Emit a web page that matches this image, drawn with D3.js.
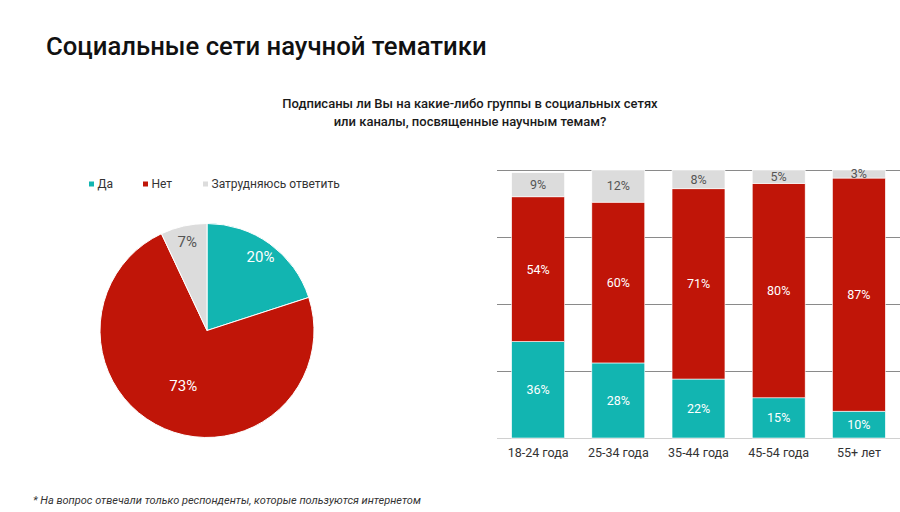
<!DOCTYPE html>
<html>
<head>
<meta charset="utf-8">
<script src="https://cdn.jsdelivr.net/npm/d3@7"></script>
<style>
  html, body { margin: 0; padding: 0; background: #fff; }
  svg { display: block; font-family: Roboto, "Noto Sans", sans-serif; }
</style>
</head>
<body>
<svg id="chart" width="900" height="512"></svg>
<script>
// ---- data ----
const seriesNames = ["Да", "Нет", "Затрудняюсь ответить"];
const seriesColors = ["#12b5b1", "#c01508", "#dcdcdc"];
const labelColors = ["#ffffff", "#ffffff", "#555555"];

const pieValues = [20, 73, 7];

const ageGroups = ["18-24 года", "25-34 года", "35-44 года", "45-54 года", "55+ лет"];
const yesValues = [36, 28, 22, 15, 10];
const noValues = [54, 60, 71, 80, 87];
const unsureValues = [9, 12, 8, 5, 3];
const yTicks = [0, 25, 50, 75, 100];

const titleText = "Социальные сети научной тематики";
const subtitleLines = ["Подписаны ли Вы на какие-либо группы в социальных сетях",
                       "или каналы, посвященные научным темам?"];
const footnoteText = "* На вопрос отвечали только респонденты, которые пользуются интернетом";

// ---- drawing ----
const svg = d3.select("#chart");

svg.append("text")
  .attr("x", 46).attr("y", 55)
  .attr("font-size", 25.7).attr("font-weight", 500)
  .attr("fill", "#111")
  .text(titleText);

svg.append("g").selectAll("text").data(subtitleLines).join("text")
  .attr("x", 470).attr("y", (d, i) => 108 + i * 18)
  .attr("text-anchor", "middle")
  .attr("font-size", 13).attr("font-weight", 500)
  .attr("fill", "#1a1a1a")
  .text(d => d);

// legend
const legendX = [89, 143, 203];
const legend = svg.append("g");
seriesNames.forEach((name, i) => {
  legend.append("rect")
    .attr("x", legendX[i]).attr("y", 181.5)
    .attr("width", 5).attr("height", 5)
    .attr("fill", seriesColors[i]);
  legend.append("text")
    .attr("x", legendX[i] + 8.5).attr("y", 188)
    .attr("font-size", 12).attr("fill", "#333")
    .text(name);
});

// pie
const cx = 207, cy = 330.5, R = 107;
const pie = d3.pie().sort(null).value(d => d);
const arcs = pie(pieValues);
const arc = d3.arc().innerRadius(0).outerRadius(R);
const pg = svg.append("g").attr("transform", `translate(${cx},${cy})`);
pg.selectAll("path").data(arcs).join("path")
  .attr("d", arc)
  .attr("fill", (d, i) => seriesColors[i])
  .attr("stroke", "#fff").attr("stroke-width", 1);
pg.selectAll("text").data(arcs).join("text")
  .attr("transform", d => {
    const r = (d.endAngle - d.startAngle) > Math.PI ? R * 0.56 : R * 0.85;
    const a = (d.startAngle + d.endAngle) / 2;
    return `translate(${Math.sin(a) * r},${-Math.cos(a) * r})`;
  })
  .attr("text-anchor", "middle")
  .attr("dy", "0.35em")
  .attr("font-size", 15)
  .attr("fill", (d, i) => labelColors[i])
  .text(d => d.data + "%");

// stacked bars
const x = d3.scaleBand().domain(ageGroups).range([498, 899])
  .paddingInner(0.34).paddingOuter(0.17);
const y = d3.scaleLinear().domain([0, 100]).range([438, 170]).clamp(true);

const grid = svg.append("g");
grid.selectAll("line").data(yTicks).join("line")
  .attr("x1", 497).attr("x2", 900)
  .attr("y1", d => Math.round(y(d)) + 0.5).attr("y2", d => Math.round(y(d)) + 0.5)
  .attr("stroke", d => d === 0 ? "#d0d0d0" : "#8a8a8a")
  .attr("stroke-width", 1);

const rows = ageGroups.map((g, i) => ({ group: g, yes: yesValues[i], no: noValues[i], unsure: unsureValues[i] }));
const keys = ["yes", "no", "unsure"];
const stacked = d3.stack().keys(keys)(rows);

const bars = svg.append("g");
stacked.forEach((layer, si) => {
  bars.append("g").selectAll("rect").data(layer).join("rect")
    .attr("x", d => x(d.data.group))
    .attr("width", x.bandwidth())
    .attr("y", d => y(d[1]))
    .attr("height", d => y(d[0]) - y(d[1]))
    .attr("fill", seriesColors[si])
    .attr("stroke", "#fff").attr("stroke-width", 0.6);
});
stacked.forEach((layer, si) => {
  bars.append("g").selectAll("text").data(layer).join("text")
    .attr("x", d => x(d.data.group) + x.bandwidth() / 2)
    .attr("y", d => (y(d[0]) + y(d[1])) / 2)
    .attr("dy", "0.35em")
    .attr("text-anchor", "middle")
    .attr("font-size", 12.5)
    .attr("fill", labelColors[si])
    .text(d => d.data[keys[si]] + "%");
});

// x axis labels
const xAxis = d3.axisBottom(x).tickSize(0).tickPadding(10);
const xg = svg.append("g").attr("transform", "translate(0,438)").call(xAxis);
xg.select(".domain").remove();
xg.selectAll("text").attr("font-size", 12.5).attr("fill", "#333")
  .attr("font-family", "Roboto, 'Noto Sans', sans-serif");

// footnote
svg.append("text")
  .attr("x", 33).attr("y", 504)
  .attr("font-size", 11).attr("font-style", "italic")
  .attr("fill", "#333")
  .text(footnoteText);
</script>
</body>
</html>
